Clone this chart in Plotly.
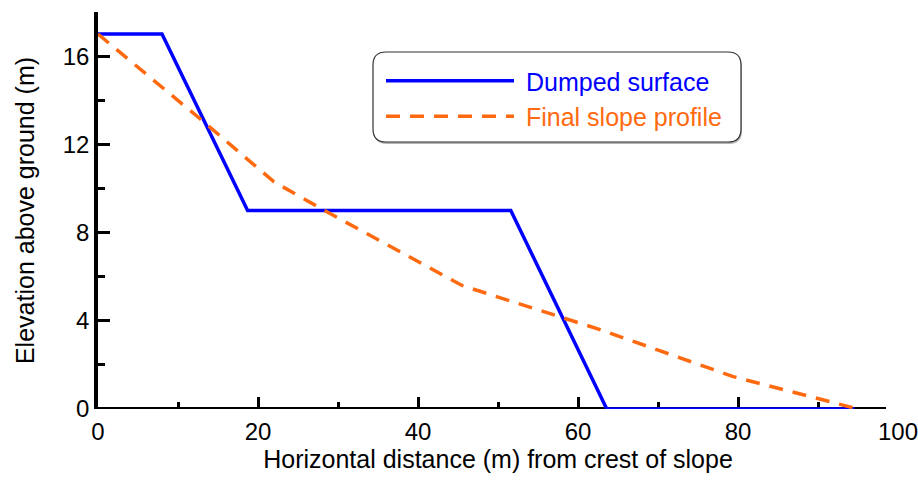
import plotly.graph_objects as go

# Data
dumped_x = [0, 8, 18.7, 51.6, 63.6, 94.6]
dumped_y = [17, 17, 9, 9, 0, 0]
final_x = [0, 12.75, 22, 28.6, 45.5, 62.75, 79.4, 95]
final_y = [17, 13.16, 10.3, 8.94, 5.6, 3.6, 1.47, 0]

x_ticks = [0, 20, 40, 60, 80, 100]
y_ticks = [0, 4, 8, 12, 16]

BLUE = "#0000FF"
ORANGE = "#FF6A10"
FONT = "Liberation Sans, Arial, sans-serif"

W, H = 918, 481
ML, MR, MT, MB = 98, 20, 12, 72
PW = W - ML - MR
PH = H - MT - MB


def px2paper(px, py):
    return (px - ML) / PW, (H - MB - py) / PH


def rounded_rect(x0, y0, x1, y1, r):
    def P(x, y):
        a, b = px2paper(x, y)
        return f"{a:.5f},{b:.5f}"
    return (f"M{P(x0 + r, y0)} L{P(x1 - r, y0)} Q{P(x1, y0)} {P(x1, y0 + r)} "
            f"L{P(x1, y1 - r)} Q{P(x1, y1)} {P(x1 - r, y1)} "
            f"L{P(x0 + r, y1)} Q{P(x0, y1)} {P(x0, y1 - r)} "
            f"L{P(x0, y0 + r)} Q{P(x0, y0)} {P(x0 + r, y0)} Z")


fig = go.Figure()
fig.add_trace(go.Scatter(
    x=dumped_x, y=dumped_y, mode="lines", cliponaxis=False,
    line=dict(color=BLUE, width=3.5),
    name=f"<span style='color:{BLUE}'>\u00a0Dumped surface</span>",
))
fig.add_trace(go.Scatter(
    x=final_x, y=final_y, mode="lines", cliponaxis=False,
    line=dict(color=ORANGE, width=3.5, dash="14px,10px"),
    name=f"<span style='color:{ORANGE}'>\u00a0Final slope profile</span>",
))

shapes = [
    # horizontal axis line, drawn beneath the traces
    dict(type="line", xref="paper", yref="y", x0=0, x1=0.985, y0=0, y1=0,
         line=dict(color="black", width=4), layer="below"),
    dict(type="path", xref="paper", yref="paper",
         path=rounded_rect(374, 54, 742, 144, 13),
         fillcolor="#b5b5b5", line=dict(width=0), layer="above"),
    dict(type="path", xref="paper", yref="paper",
         path=rounded_rect(373, 52, 741, 142, 13),
         fillcolor="white", line=dict(color="#333333", width=1.2), layer="above"),
]

lx, ly = px2paper(381, 58)

fig.update_layout(
    width=W, height=H,
    margin=dict(l=ML, r=MR, t=MT, b=MB, pad=0),
    paper_bgcolor="white", plot_bgcolor="white",
    font=dict(family=FONT, size=24, color="black"),
    showlegend=True,
    legend=dict(
        x=lx, y=ly, xanchor="left", yanchor="top",
        bgcolor="rgba(0,0,0,0)", borderwidth=0,
        font=dict(family=FONT, size=25),
        itemwidth=128, tracegroupgap=0,
    ),
    shapes=shapes,
    xaxis=dict(
        range=[0, 100], tickvals=x_ticks, ticktext=[str(v) for v in x_ticks],
        automargin=False, layer="below traces", ticklabeloverflow="allow",
        showline=False,
        ticks="inside", ticklen=12, tickwidth=3, tickcolor="black",
        minor=dict(ticks="inside", ticklen=7, tickwidth=3, tickcolor="black", dtick=10, tick0=0),
        showgrid=False, zeroline=False,
        ticklabelstandoff=6,
        tickfont=dict(family=FONT, size=24),
        title=dict(text="Horizontal distance (m) from crest of slope",
                   font=dict(family=FONT, size=25), standoff=2),
    ),
    yaxis=dict(
        range=[0, 18], tickvals=y_ticks, ticktext=[str(v) for v in y_ticks],
        automargin=False, layer="below traces", ticklabeloverflow="allow",
        showline=True, linecolor="black", linewidth=3.5,
        ticks="inside", ticklen=12, tickwidth=3, tickcolor="black",
        minor=dict(ticks="inside", ticklen=7, tickwidth=3, tickcolor="black", dtick=2, tick0=0),
        showgrid=False, zeroline=False,
        tickfont=dict(family=FONT, size=24),
        title=dict(text="Elevation above ground (m)",
                   font=dict(family=FONT, size=25), standoff=22),
    ),
)

fig.write_html("out.html")
